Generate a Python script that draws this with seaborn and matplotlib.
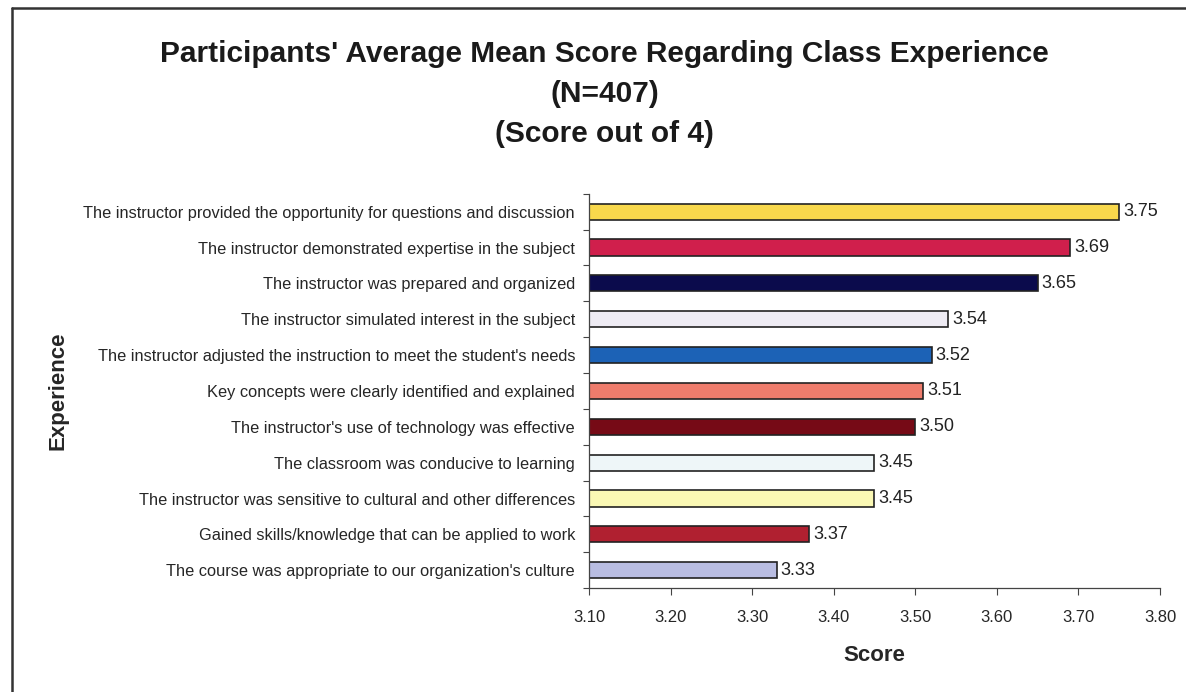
import pandas as pd
import matplotlib.pyplot as plt
import seaborn as sns
from matplotlib.lines import Line2D

# Data
experience = [
    "The instructor provided the opportunity for questions and discussion",
    "The instructor demonstrated expertise in the subject",
    "The instructor was prepared and organized",
    "The instructor simulated interest in the subject",
    "The instructor adjusted the instruction to meet the student's needs",
    "Key concepts were clearly identified and explained",
    "The instructor's use of technology was effective",
    "The classroom was conducive to learning",
    "The instructor was sensitive to cultural and other differences",
    "Gained skills/knowledge that can be applied to work",
    "The course was appropriate to our organization's culture",
]
scores = [3.75, 3.69, 3.65, 3.54, 3.52, 3.51, 3.50, 3.45, 3.45, 3.37, 3.33]
bar_colors = ["#F8D84C", "#D01F4C", "#0B0B4C", "#EEEBF3", "#1C62B6", "#EE7C6C",
              "#760A16", "#EEF6F8", "#FAF8B4", "#B02030", "#B9BDE2"]
xticks = [3.1, 3.2, 3.3, 3.4, 3.5, 3.6, 3.7, 3.8]
xtick_labels = ["3.10", "3.20", "3.30", "3.40", "3.50", "3.60", "3.70", "3.80"]

df = pd.DataFrame({"Experience": experience, "Score": scores})

sns.set_style("white")
plt.rcParams["font.family"] = ["Liberation Sans", "DejaVu Sans"]

fig = plt.figure(figsize=(11.86, 6.92), dpi=100)
ax = fig.add_axes([0.4966, 0.150, 0.4815, 0.570])

sns.barplot(data=df, y="Experience", x="Score", hue="Experience",
            palette=bar_colors, legend=False, width=0.45, saturation=1,
            edgecolor="#222222", linewidth=1.2, ax=ax)

ax.set_xlim(3.1, 3.8)
ax.set_xticks(xticks)
ax.set_xticklabels(xtick_labels, fontsize=12)
ax.tick_params(axis="x", length=5, width=0.8, color="#444444", pad=11, direction="out", bottom=True)
ax.tick_params(axis="y", length=0, pad=10)
for lab in ax.get_yticklabels():
    lab.set_fontsize(11.8)

# small ticks between categories on the left axis
ax.set_yticks([i + 0.5 for i in range(-1, len(experience))], minor=True)
ax.tick_params(axis="y", which="minor", length=4, width=0.8, color="#444444", left=True)

for s in ["top", "right"]:
    ax.spines[s].set_visible(False)
for s in ["left", "bottom"]:
    ax.spines[s].set_color("#444444")
    ax.spines[s].set_linewidth(0.9)

for i, v in enumerate(scores):
    ax.text(v + 0.005, i, f"{v:.2f}", va="center", ha="left", fontsize=13, color="#222222")

ax.set_xlabel("Score", fontsize=16, fontweight="bold", labelpad=14)
ax.set_ylabel("Experience", fontsize=16, fontweight="bold")
ax.yaxis.set_label_coords(-0.912, 0.5)

fig.text(0.51, 0.864, "Participants' Average Mean Score Regarding Class Experience\n(N=407)\n(Score out of 4)",
         ha="center", va="center", fontsize=21.5, fontweight="bold", linespacing=1.55, color="#1a1a1a")

# outer frame (left and top edges visible in reference)
fig.add_artist(Line2D([0.010, 0.010], [0.0, 0.988], transform=fig.transFigure, color="#333333", lw=1.8))
fig.add_artist(Line2D([0.010, 1.0], [0.988, 0.988], transform=fig.transFigure, color="#333333", lw=1.8))

fig.savefig("out.png", dpi=100)
